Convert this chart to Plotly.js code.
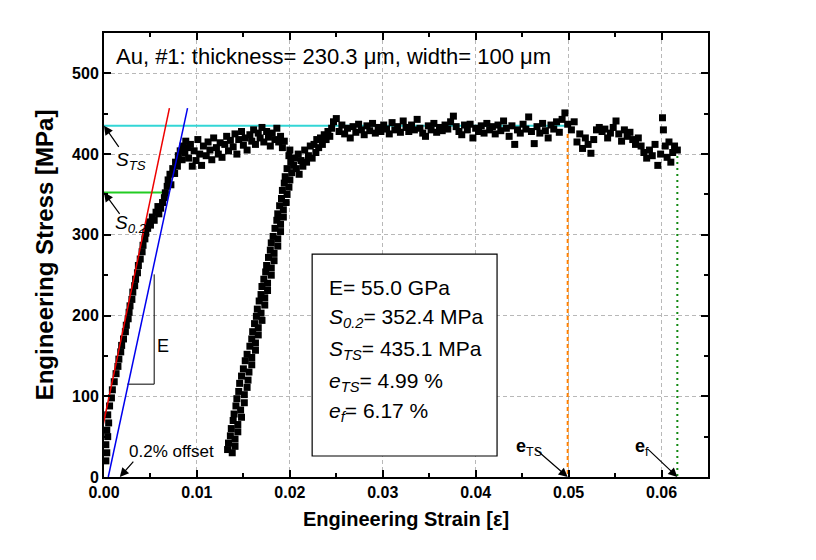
<!DOCTYPE html>
<html>
<head>
<meta charset="utf-8">
<script src="https://cdn.plot.ly/plotly-3.0.1.min.js"></script>
<style>html,body{margin:0;padding:0;background:#fff;}#chart{width:816px;height:560px;}</style>
</head>
<body>
<div id="chart"></div>
<script>
// ---- measured data: initial loading ----
const strainLoad = [0.0002,0.0003,0.0002,0.0004,0.0003,0.0005,0.0004,0.0006,0.0008,0.0009,0.0011,0.0013,0.0015,0.0016,0.0018,0.0019,0.0021,0.0023,0.0024,0.0026,0.0027,0.0028,0.0030,0.0031,0.0033,0.0034,0.0036,0.0037,0.0039,0.0041,0.0042,0.0044,0.0045,0.0047,0.0049,0.0050,0.0052,0.0054,0.0056,0.0058,0.0059,0.0061,0.0063,0.0065,0.0066,0.0068,0.0069,0.0071,0.0072,0.0074,0.0076,0.0077,0.0079,0.0080,0.0082,0.0084,0.0085,0.0087,0.0088,0.0090];
const stressLoad = [20,30,40,50,58,67,77,88,98,108,118,128,137,146,155,163,171,180,188,196,204,212,220,229,237,245,253,262,270,279,287,295,302,308,316,312,322,318,328,335,326,333,340,346,352,360,368,375,362,382,376,390,385,398,404,393,410,402,416,408];
// ---- first plateau ----
const strainPlat1 = [0.0091,0.0093,0.0095,0.0097,0.0099,0.0101,0.0103,0.0105,0.0107,0.0110,0.0112,0.0114,0.0116,0.0118,0.0121,0.0123,0.0125,0.0127,0.0130,0.0132,0.0134,0.0136,0.0139,0.0141,0.0143,0.0145,0.0148,0.0150,0.0152,0.0154,0.0157,0.0159,0.0161,0.0163,0.0166,0.0168,0.0170,0.0172,0.0175,0.0177,0.0179,0.0181,0.0184,0.0186,0.0188,0.0190,0.0192,0.0194];
const stressPlat1 = [395,412,385,404,392,418,400,386,410,398,415,405,393,420,408,400,414,396,412,422,404,417,409,425,400,418,428,411,420,405,424,416,430,412,426,420,433,415,428,421,410,426,418,432,415,422,408,416];
// ---- unloading ----
const strainUnload = [0.0200,0.0199,0.0201,0.0197,0.0195,0.0194,0.0192,0.0191,0.0189,0.0187,0.0186,0.0184,0.0182,0.0180,0.0179,0.0177,0.0175,0.0174,0.0172,0.0170,0.0169,0.0167,0.0165,0.0164,0.0162,0.0160,0.0159,0.0157,0.0154,0.0152,0.0150,0.0148,0.0146,0.0145,0.0143,0.0142,0.0140,0.0139,0.0137,0.0136,0.0134,0.0133];
const stressUnload = [405,398,390,382,372,364,355,345,336,326,318,308,298,290,281,272,262,254,245,236,226,218,208,199,190,180,171,162,152,144,134,125,116,106,97,88,78,70,60,51,42,34];
// ---- reloading ----
const strainReload = [0.0138,0.0141,0.0141,0.0144,0.0144,0.0148,0.0147,0.0151,0.0151,0.0154,0.0155,0.0156,0.0159,0.0159,0.0163,0.0163,0.0166,0.0166,0.0170,0.0169,0.0173,0.0173,0.0176,0.0176,0.0180,0.0180,0.0183,0.0183,0.0187,0.0187,0.0190,0.0190,0.0193,0.0193,0.0196,0.0197,0.0199,0.0200,0.0202,0.0204,0.0205,0.0207,0.0209,0.0210,0.0212,0.0214,0.0216,0.0218,0.0220,0.0222,0.0224,0.0226,0.0228,0.0229,0.0231,0.0233,0.0235,0.0237,0.0239,0.0241,0.0243,0.0245];
const stressReload = [30,38,47,56,65,74,83,92,102,111,120,130,139,148,157,166,176,185,194,203,213,222,231,240,250,259,268,277,286,295,304,313,322,331,340,350,359,368,377,386,395,382,400,375,392,385,405,390,398,410,395,412,402,418,408,420,412,424,418,428,422,432];
// ---- second plateau ----
const strainPlat2 = [0.0247,0.0250,0.0253,0.0256,0.0259,0.0262,0.0265,0.0268,0.0271,0.0274,0.0277,0.0280,0.0283,0.0286,0.0289,0.0292,0.0295,0.0298,0.0301,0.0304,0.0307,0.0310,0.0313,0.0316,0.0319,0.0322,0.0325,0.0328,0.0331,0.0334,0.0337,0.0340,0.0343,0.0346,0.0349,0.0352,0.0355,0.0358,0.0361,0.0364,0.0367,0.0370,0.0373,0.0376,0.0379,0.0382,0.0385,0.0388,0.0391,0.0394,0.0397,0.0400,0.0403,0.0406,0.0409,0.0412,0.0415,0.0418,0.0421,0.0424,0.0427,0.0430,0.0433,0.0436,0.0439,0.0442,0.0445,0.0448,0.0451,0.0454,0.0457,0.0460,0.0463,0.0466,0.0469,0.0472,0.0475,0.0478,0.0481,0.0484,0.0487,0.0490,0.0493,0.0496,0.0499];
const stressPlat2 = [440,444,428,436,425,432,420,434,427,437,430,424,435,429,438,426,433,428,436,431,425,439,430,434,427,441,433,428,436,430,443,432,426,422,435,430,438,427,433,429,436,431,440,447,434,428,424,436,430,437,420,432,428,435,426,438,430,434,425,436,429,441,432,422,435,412,430,426,437,431,446,428,413,434,426,438,429,420,436,431,440,427,443,451,437];
// ---- necking to fracture ----
const strainNeck = [0.0503,0.0506,0.0509,0.0512,0.0515,0.0518,0.0521,0.0524,0.0527,0.0530,0.0533,0.0536,0.0539,0.0542,0.0545,0.0548,0.0551,0.0554,0.0557,0.0560,0.0563,0.0566,0.0569,0.0572,0.0575,0.0578,0.0581,0.0584,0.0587,0.0590,0.0593,0.0596,0.0599,0.0601,0.0602,0.0604,0.0606,0.0608,0.0610,0.0612,0.0614,0.0617];
const stressNeck = [430,440,415,425,407,420,412,401,418,430,433,428,431,420,426,433,441,425,416,430,422,427,418,412,420,410,402,395,405,398,412,386,400,445,430,410,396,415,390,402,410,405];

// ---- reference lines ----
const modulusLineStrain = [-0.00126, 0.00704];
const modulusLineStress = [0, 457];
const offsetLineStrain = [0.00046, 0.00899];
const offsetLineStress = [0, 457];
const yieldStrain = [0, 0.0071];
const yieldStress = [352.4, 352.4];
const utsStrain = [0, 0.0499];
const utsStress = [435.1, 435.1];
const eTSStrain = [0.0499, 0.0499];
const eTSStress = [425, 0];
const efStrain = [0.0617, 0.0617];
const efStress = [405, 0];
const triStrain = [0.0025, 0.0054, 0.0054];
const triStress = [115, 115, 251];

const FONT = 'Liberation Sans, Arial, Helvetica, sans-serif';

const data = [
  {x: yieldStrain, y: yieldStress, mode:'lines', line:{color:'#22cc22', width:2}},
  {x: utsStrain, y: utsStress, mode:'lines', line:{color:'#33d6d6', width:2}},
  {x: eTSStrain, y: eTSStress, mode:'lines', line:{color:'#ff8000', width:2, dash:'4px,3px'}},
  {x: efStrain, y: efStress, mode:'lines', line:{color:'#118811', width:2, dash:'2px,4px'}},
  {x: triStrain, y: triStress, mode:'lines', line:{color:'black', width:1}},
  {x: strainLoad.concat(strainPlat1, strainUnload, strainReload, strainPlat2, strainNeck),
   y: stressLoad.concat(stressPlat1, stressUnload, stressReload, stressPlat2, stressNeck),
   mode:'markers', marker:{symbol:'square', size:7, color:'black'}},
  {x: modulusLineStrain, y: modulusLineStress, mode:'lines', line:{color:'#ee0000', width:1.5}},
  {x: offsetLineStrain, y: offsetLineStress, mode:'lines', line:{color:'#0000ee', width:1.5}}
];

const axisCommon = {
  ticks:'inside', ticklen:7, tickwidth:2, tickcolor:'black',
  showline:true, linecolor:'black', linewidth:2, mirror:'ticks',
  showgrid:true, gridcolor:'#b8b8b8', griddash:'4px,3px', gridwidth:1,
  zeroline:false,
  tickfont:{family:FONT, size:16, color:'black', weight:'bold'}
};

const arrowBase = {xref:'x', yref:'y', axref:'x', ayref:'y', text:'', showarrow:true,
  arrowhead:2, arrowsize:1.5, arrowwidth:1.2, arrowcolor:'black', standoff:0};

const txt = (x, y, text, size, extra) => Object.assign({xref:'x', yref:'y', x:x, y:y, text:text, showarrow:false,
  font:{family:FONT, size:size, color:'black'}}, extra || {});

const layout = {
  width:816, height:560,
  margin:{l:104, r:108, t:33, b:83},
  paper_bgcolor:'white', plot_bgcolor:'white',
  showlegend:false,
  xaxis: Object.assign({}, axisCommon, {
    range:[0, 0.065], tick0:0, dtick:0.01, tickformat:'.2f',
    minor:{ticks:'inside', ticklen:4, tickwidth:2, tickcolor:'black', dtick:0.005, tick0:0, showgrid:false},
    title:{text:'Engineering Strain [ε]', font:{family:FONT, size:20, color:'black', weight:'bold'}, standoff:12}
  }),
  yaxis: Object.assign({}, axisCommon, {
    range:[0, 550], tick0:0, dtick:100,
    minor:{ticks:'inside', ticklen:4, tickwidth:2, tickcolor:'black', dtick:50, tick0:0, showgrid:false},
    title:{text:'Engineering Stress [MPa]', font:{family:FONT, size:24, color:'black', weight:'bold'}, standoff:12}
  }),
  shapes:[
    {type:'rect', xref:'x', yref:'y', x0:0.0224, x1:0.0423, y0:26, y1:276,
     line:{color:'black', width:1.2}, fillcolor:'white', layer:'above'}
  ],
  annotations:[
    {xref:'paper', yref:'paper', x:0.0166, y:0.948, xanchor:'left', yanchor:'middle',
     text:'Au, #1: thickness= 230.3 μm, width= 100 μm', showarrow:false,
     font:{family:FONT, size:22, color:'black'}},
    txt(0.0240, 235, 'E= 55.0 GPa', 21, {xanchor:'left'}),
    txt(0.0240, 197, '<i>S</i><sub><i>0.2</i></sub>= 352.4 MPa', 21, {xanchor:'left'}),
    txt(0.0240, 157, '<i>S</i><sub><i>TS</i></sub>= 435.1 MPa', 21, {xanchor:'left'}),
    txt(0.0240, 118, '<i>e</i><sub><i>TS</i></sub>= 4.99 %', 21, {xanchor:'left'}),
    txt(0.0240, 80, '<i>e</i><sub><i>f</i></sub>= 6.17 %', 21, {xanchor:'left'}),
    txt(0.0029, 392, '<i>S</i><sub><i>TS</i></sub>', 19),
    txt(0.0029, 314, '<i>S</i><sub><i>0.2</i></sub>', 19),
    txt(0.0064, 162, 'E', 18),
    txt(0.0073, 31, '0.2% offset', 17),
    txt(0.0457, 37, '<b>e</b><sub>TS</sub>', 18),
    txt(0.0579, 36, '<b>e</b><sub>f</sub>', 18),
    Object.assign({}, arrowBase, {x:0, y:435.1, ax:0.0017, ay:407}),
    Object.assign({}, arrowBase, {x:0, y:352.4, ax:0.0018, ay:324}),
    Object.assign({}, arrowBase, {x:0.0017, y:0, ax:0.0033, ay:21}),
    Object.assign({}, arrowBase, {x:0.0499, y:0, ax:0.0463, ay:36}),
    Object.assign({}, arrowBase, {x:0.0617, y:0, ax:0.0584, ay:36})
  ]
};

Plotly.newPlot('chart', data, layout, {staticPlot:true, displayModeBar:false});
</script>
</body>
</html>
